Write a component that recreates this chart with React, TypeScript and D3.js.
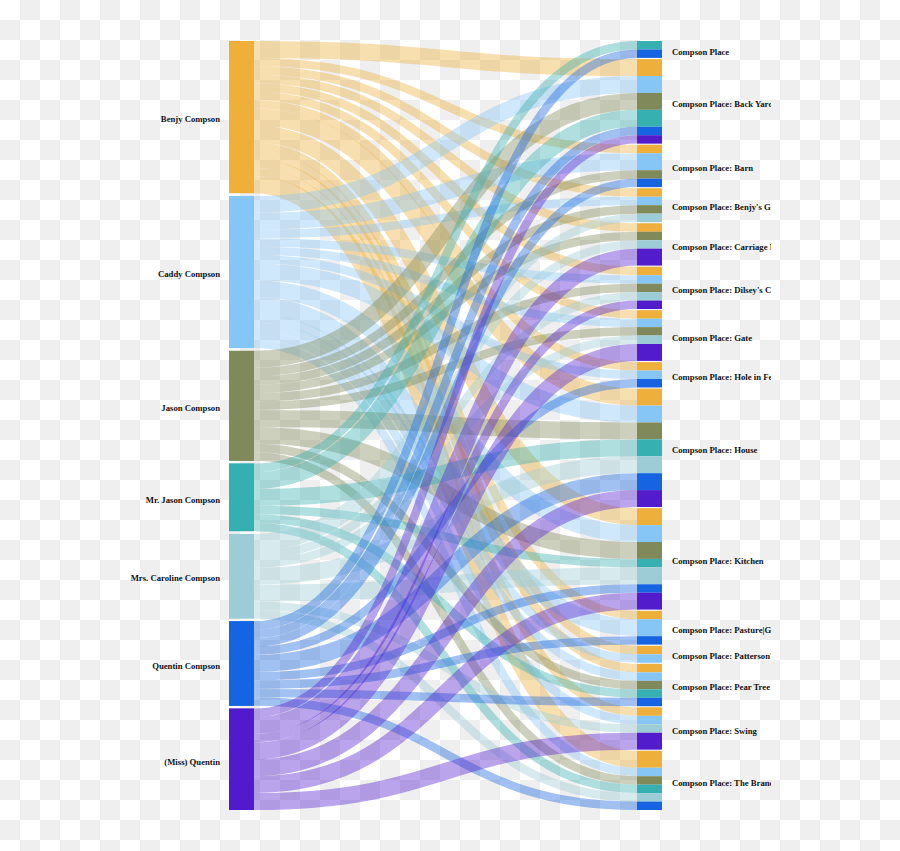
import React from 'react'
import * as d3 from 'd3'

// characters (left column), in drawing order
const characters = [
  'Benjy Compson',
  'Caddy Compson',
  'Jason Compson',
  'Mr. Jason Compson',
  'Mrs. Caroline Compson',
  'Quentin Compson',
  '(Miss) Quentin'
]
const characterColors = ['#EEB03A', '#86C6F6', '#7F895A', '#36B0B0', '#9CCCD6', '#1664E2', '#521CCC']

// places (right column)
const places = [
  'Compson Place',
  'Compson Place: Back Yard',
  'Compson Place: Barn',
  "Compson Place: Benjy's Graveyard",
  'Compson Place: Carriage House',
  "Compson Place: Dilsey's Cabin",
  'Compson Place: Gate',
  'Compson Place: Hole in Fence',
  'Compson Place: House',
  'Compson Place: Kitchen',
  'Compson Place: Pasture|Golf Course',
  "Compson Place: Patterson's",
  'Compson Place: Pear Tree',
  'Compson Place: Swing',
  'Compson Place: The Branch'
]

// scene counts per character, one entry per place (same order as places)
const benjy = [0, 2, 1, 1, 1, 1, 1, 1, 2, 2, 1, 1, 1, 1, 2]
const caddy = [0, 2, 2, 1, 0, 1, 1, 1, 2, 2, 2, 1, 1, 1, 1]
const jason = [0, 2, 1, 1, 1, 1, 1, 0, 2, 2, 0, 0, 1, 0, 1]
const mrJason = [1, 2, 0, 0, 0, 0, 0, 0, 2, 1, 0, 0, 1, 0, 1]
const mrsCaroline = [0, 0, 0, 1, 1, 1, 1, 0, 2, 2, 0, 0, 0, 1, 1]
const quentin = [1, 1, 1, 0, 0, 0, 0, 1, 2, 1, 1, 0, 1, 0, 1]
const missQuentin = [0, 1, 0, 0, 2, 1, 2, 0, 2, 2, 0, 0, 0, 2, 0]

const counts = [benjy, caddy, jason, mrJason, mrsCaroline, quentin, missQuentin]

export default function App() {
  const W = 900
  const H = 851
  const top = 41
  const bottom = 810
  const nodeWidth = 25
  const padRight = 1.2

  // columns
  const xCol = d3.scaleLinear().domain([0, 1]).range([229, 637])

  const total = d3.sum(counts, (row) => d3.sum(row))
  const ky = (bottom - top - (places.length - 1) * padRight) / total
  const size = d3.scaleLinear().domain([0, total]).range([0, total * ky])

  const srcTotals = counts.map((row) => d3.sum(row))
  const tgtTotals = places.map((_, j) => d3.sum(counts, (row) => row[j]))
  const padLeft = (bottom - top - size(total)) / (characters.length - 1)

  const srcY0 = srcTotals.map((_, i) => top + size(d3.sum(srcTotals.slice(0, i))) + i * padLeft)
  const tgtY0 = tgtTotals.map((_, j) => top + size(d3.sum(tgtTotals.slice(0, j))) + j * padRight)

  // build links: stacked at source by target order, at target by source order
  const links = []
  const srcOffset = srcY0.slice()
  const tgtOffset = tgtY0.slice()
  counts.forEach((row, i) => {
    row.forEach((v, j) => {
      if (!v) return
      links.push({ s: i, t: j, value: v, sy: srcOffset[i], w: size(v) })
      srcOffset[i] += size(v)
    })
  })
  places.forEach((_, j) => {
    links.filter((l) => l.t === j).sort((a, b) => a.s - b.s).forEach((l) => {
      l.ty = tgtOffset[j]
      tgtOffset[j] += l.w
    })
  })

  const linkPath = d3.linkHorizontal()
  const xs = xCol(0) + nodeWidth
  const xt = xCol(1)

  const font = { fontFamily: '"Liberation Serif", "Times New Roman", serif', fontWeight: 'bold', fontSize: 8.7 }

  return (
    <svg width={W} height={H} style={{ position: 'absolute', left: 0, top: 0, display: 'block' }}>
      <defs>
        <pattern id="checker" width="40" height="40" patternUnits="userSpaceOnUse">
          <rect width="40" height="40" fill="#ffffff" />
          <rect x="20" y="0" width="20" height="20" fill="#efefef" />
          <rect x="0" y="20" width="20" height="20" fill="#efefef" />
        </pattern>
        <clipPath id="chartClip">
          <rect x="0" y="0" width="771" height={H} />
        </clipPath>
      </defs>
      <rect width={W} height={H} fill="url(#checker)" />

      <g clipPath="url(#chartClip)">
        {/* links */}
        <g fill="none">
          {links.map((l, k) => (
            <path
              key={k}
              d={linkPath({ source: [xs, l.sy + l.w / 2], target: [xt, l.ty + l.w / 2] })}
              stroke={characterColors[l.s]}
              strokeOpacity={0.4}
              strokeWidth={l.w}
            />
          ))}
        </g>

        {/* character nodes */}
        <g>
          {characters.map((name, i) => (
            <rect key={name} x={xCol(0)} y={srcY0[i]} width={nodeWidth} height={size(srcTotals[i])} fill={characterColors[i]} />
          ))}
        </g>

        {/* node segments, one per link at both ends */}
        <g>
          {links.map((l, k) => (
            <g key={k} fill={characterColors[l.s]}>
              <rect x={xCol(0)} y={l.sy} width={nodeWidth} height={l.w} fillOpacity={0.97} />
              <rect x={xCol(1)} y={l.ty} width={nodeWidth} height={l.w} />
            </g>
          ))}
        </g>

        {/* labels */}
        <g style={font} fill="#111">
          {characters.map((name, i) => (
            <text key={name} x={xCol(0) - 9} y={srcY0[i] + size(srcTotals[i]) / 2} dy="0.6em" textAnchor="end">
              {name}
            </text>
          ))}
          {places.map((name, j) => (
            <text key={name} x={xCol(1) + nodeWidth + 10} y={tgtY0[j] + size(tgtTotals[j]) / 2} dy="0.6em" textAnchor="start">
              {name}
            </text>
          ))}
        </g>
      </g>
    </svg>
  )
}
